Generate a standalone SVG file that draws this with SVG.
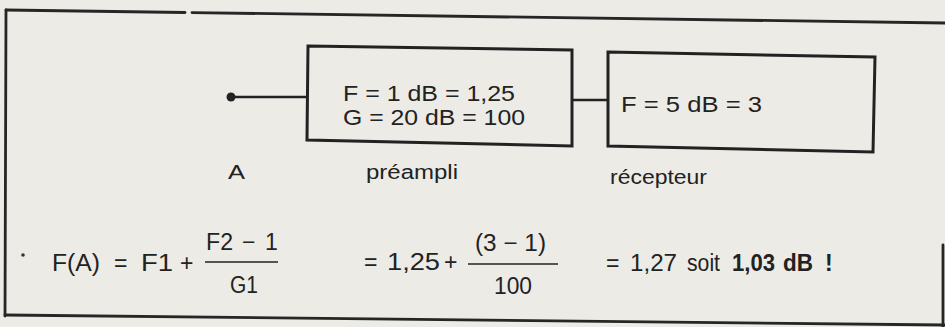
<svg xmlns="http://www.w3.org/2000/svg" width="945" height="327" viewBox="0 0 945 327">
<style>
.frame{stroke:#262626;stroke-width:2.8;fill:none;stroke-linecap:round}
.box{stroke:#222;stroke-width:3;fill:none;stroke-linejoin:miter}
.wire{stroke:#222;stroke-width:2.6;fill:none}
.t{font-family:"Liberation Sans",Arial,sans-serif;fill:#222}
.bx{font-size:22px}
.lb{font-size:20px}
.fm{font-size:23px}
.b{font-weight:bold}
</style>
<rect width="945" height="327" fill="#ecebe6"/>
<g id="frame">
<line class="frame" x1="6" y1="10" x2="185" y2="12.5"/>
<line class="frame" x1="192" y1="12.6" x2="945" y2="23"/>
<line class="frame" x1="6" y1="10" x2="5" y2="316"/>
<line class="frame" x1="5" y1="315" x2="945" y2="325"/>
<line class="frame" x1="943" y1="245" x2="943" y2="327"/>
</g>
<g id="connectors">
<circle cx="231" cy="97" r="4.5" fill="#222"/>
<line class="wire" x1="231" y1="97" x2="307" y2="97"/>
<line class="wire" x1="572" y1="100" x2="608" y2="100"/>
</g>
<g id="preampli">
<polygon class="box" points="308,46 572,50 572,146 307,140"/>
<text class="t bx" x="343" y="101" textLength="172" lengthAdjust="spacingAndGlyphs">F = 1 dB = 1,25</text>
<text class="t bx" x="343" y="125" textLength="182" lengthAdjust="spacingAndGlyphs">G = 20 dB = 100</text>
<text class="t lb" x="366" y="179" textLength="92" lengthAdjust="spacingAndGlyphs">préampli</text>
</g>
<g id="recepteur">
<polygon class="box" points="608,52 875,57 873,152 608,146"/>
<text class="t bx" x="621" y="112" textLength="141" lengthAdjust="spacingAndGlyphs">F = 5 dB = 3</text>
<text class="t lb" x="610" y="184" textLength="97" lengthAdjust="spacingAndGlyphs">récepteur</text>
</g>
<g id="entree">
<text class="t lb" x="228" y="179" textLength="17" lengthAdjust="spacingAndGlyphs">A</text>
</g>
<g id="formule">
<circle cx="23" cy="255" r="1.8" fill="#333"/>
<text class="t fm" y="271"><tspan x="52" textLength="48" lengthAdjust="spacingAndGlyphs">F(A)</tspan><tspan x="114">=</tspan><tspan x="141" textLength="32" lengthAdjust="spacingAndGlyphs">F1</tspan><tspan x="180">+</tspan></text>
<text class="t fm" y="250"><tspan x="206" textLength="27" lengthAdjust="spacingAndGlyphs">F2</tspan><tspan x="242">−</tspan><tspan x="265">1</tspan></text>
<line x1="205" y1="262" x2="278" y2="262" stroke="#222" stroke-width="1.6"/>
<text class="t fm" x="230" y="293" textLength="28" lengthAdjust="spacingAndGlyphs">G1</text>
<text class="t fm" y="270"><tspan x="364">=</tspan><tspan x="387" textLength="53" lengthAdjust="spacingAndGlyphs">1,25</tspan><tspan x="444">+</tspan></text>
<text class="t fm" x="475" y="251" textLength="71" lengthAdjust="spacingAndGlyphs">(3 − 1)</text>
<line x1="468" y1="264" x2="558" y2="264" stroke="#222" stroke-width="1.6"/>
<text class="t fm" x="494" y="294" textLength="38" lengthAdjust="spacingAndGlyphs">100</text>
<text class="t fm" y="271"><tspan x="606">=</tspan><tspan x="630" textLength="47" lengthAdjust="spacingAndGlyphs">1,27</tspan><tspan x="687" textLength="33" lengthAdjust="spacingAndGlyphs">soit</tspan><tspan class="b" x="732" textLength="43" lengthAdjust="spacingAndGlyphs">1,03</tspan><tspan class="b" x="783" textLength="30" lengthAdjust="spacingAndGlyphs">dB</tspan><tspan class="b" x="825">!</tspan></text>
</g>
</svg>
